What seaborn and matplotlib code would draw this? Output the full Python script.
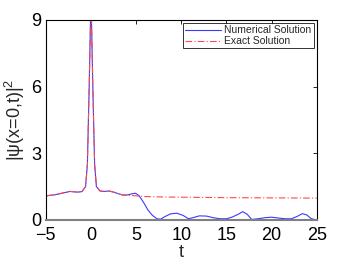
"""|psi(x=0,t)|^2 : numerical vs exact solution."""

import matplotlib
matplotlib.use("Agg")
import matplotlib.pyplot as plt
import pandas as pd
import seaborn as sns

# numerical solution
t_num = [-5, -4, -3, -2.3, -1.5, -1, -0.6, -0.4, -0.2, -0.05, 0.05, 0.2, 0.4, 0.6,
         1, 1.5, 2, 2.5, 3, 3.5, 4, 4.5, 4.9, 5.3, 5.8, 6.3, 6.8, 7.3, 7.7, 8.2,
         8.8, 9.5, 10.2, 10.8, 11.3, 12, 12.8, 13.5, 14.3, 15, 15.6, 16.3, 16.8,
         17.3, 17.8, 18.5, 19.3, 20, 20.8, 21.5, 22.2, 22.8, 23.4, 23.9, 24.4, 25]
psi_num = [1.08, 1.13, 1.22, 1.28, 1.25, 1.27, 1.5, 2.5, 6.0, 9.1, 9.1, 6.0, 2.5, 1.5,
           1.3, 1.28, 1.3, 1.25, 1.18, 1.12, 1.12, 1.17, 1.2, 1.1, 0.8, 0.45, 0.2,
           0.05, 0.03, 0.15, 0.27, 0.3, 0.2, 0.05, 0.1, 0.18, 0.17, 0.1, 0.05, 0.05,
           0.12, 0.25, 0.37, 0.25, 0.02, 0.05, 0.1, 0.12, 0.08, 0.05, 0.05, 0.15,
           0.28, 0.22, 0.05, 0.0]

# exact solution
t_exact = [-5, -4, -3, -2.3, -1.5, -1, -0.6, -0.4, -0.2, -0.05, 0.05, 0.2, 0.4, 0.6,
           1, 1.5, 2, 2.5, 3, 3.5, 4, 4.5, 5, 6, 8, 10, 15, 20, 25]
psi_exact = [1.08, 1.13, 1.22, 1.28, 1.25, 1.27, 1.5, 2.5, 6.0, 9.0, 9.0, 6.0, 2.5, 1.5,
             1.3, 1.28, 1.3, 1.25, 1.18, 1.12, 1.1, 1.1, 1.08, 1.05, 1.03, 1.02,
             1.0, 0.99, 0.98]

x_ticks = [-5, 0, 5, 10, 15, 20, 25]
y_ticks = [0, 3, 6, 9]

sns.set_theme(style="white")
plt.rcParams["font.family"] = ["Liberation Sans", "DejaVu Sans"]
plt.rcParams["mathtext.fontset"] = "custom"
plt.rcParams["mathtext.rm"] = "Liberation Sans"

fig = plt.figure(figsize=(3.5, 2.63), dpi=100)
ax = fig.add_axes([0.131, 0.164, 0.774, 0.760])

num = pd.DataFrame({"t": t_num, "psi": psi_num})
exact = pd.DataFrame({"t": t_exact, "psi": psi_exact})
sns.lineplot(data=num, x="t", y="psi", color="#3a3aff", linewidth=0.8,
             label="Numerical Solution", ax=ax)
sns.lineplot(data=exact, x="t", y="psi", color="#ff4a4a", linewidth=0.8,
             linestyle=(0, (6, 2, 1, 2)), label="Exact Solution", ax=ax)

ax.set_xlim(-5, 25)
ax.set_ylim(0, 9)
ax.set_xticks(x_ticks)
ax.set_yticks(y_ticks)
ax.tick_params(direction="in", length=3, width=0.6, labelsize=13,
               top=True, right=True, colors="black")
ax.tick_params(axis="x", pad=5)
ax.tick_params(axis="y", pad=3)
for side in ("top", "right", "left"):
    ax.spines[side].set_visible(True)
    ax.spines[side].set_color("black")
    ax.spines[side].set_linewidth(0.8)
ax.spines["bottom"].set_color("#808080")
ax.spines["bottom"].set_linewidth(1.5)

ax.set_xlabel("t", fontsize=13, labelpad=0)
ax.set_ylabel("|ψ(x=0,t)|$^\\mathrm{2}$", fontsize=13, labelpad=3)

leg = ax.legend(loc="upper right", fontsize=7.5, frameon=True, fancybox=False,
                borderpad=0.2, labelspacing=0.1, handlelength=3.5,
                handletextpad=0.3, borderaxespad=0.3)
leg.get_frame().set_edgecolor("black")
leg.get_frame().set_linewidth(0.7)

fig.savefig("out.png", dpi=100)
